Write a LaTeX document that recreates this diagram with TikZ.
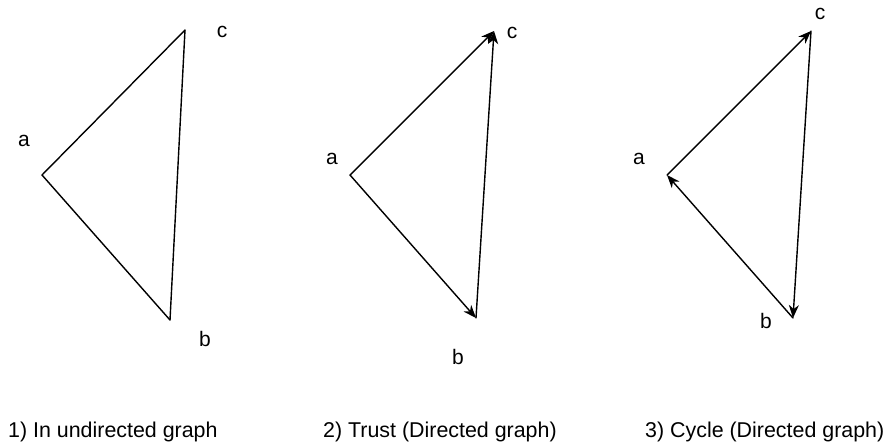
\documentclass[tikz,border=0pt]{standalone}
\usepackage{fontspec}
\setmainfont{Liberation Sans}
\usetikzlibrary{arrows.meta,positioning}

\begin{document}
\begin{tikzpicture}[x=1pt, y=-1pt,
  lbl/.style={font=\fontsize{21}{24}\selectfont, inner sep=0pt},
  caption/.style={font=\fontsize{21.4}{24}\selectfont, inner sep=0pt, anchor=base west},
  edge/.style={line width=1.4pt, line cap=round},
  arr/.style={edge, -{Stealth[length=13pt, width=10pt, inset=4pt]}},
]
\useasboundingbox (0,0) rectangle (891,445);
% 1) undirected graph
\coordinate (a1) at (42,175);
\coordinate (c1) at (185,30);
\coordinate (b1) at (170,320);
\node[lbl] (la1) at (24,141) {a};
\node[lbl] (lc1) at (222,32) {c};
\node[lbl] (lb1) at (205,339) {b};
\draw[edge] (a1)--(c1);
\draw[edge] (c1)--(b1);
\draw[edge] (b1)--(a1);
% 2) trust
\coordinate (a2) at (350,175);
\coordinate (c2) at (494,31);
\coordinate (b2) at (476,318);
\node[lbl] (la2) at (332,159) {a};
\node[lbl] (lc2) at (512,33) {c};
\node[lbl] (lb2) at (458,357) {b};
\draw[arr] (a2)--(c2);
\draw[arr] (a2)--(b2);
\draw[arr] (b2)--(c2);
% 3) cycle
\coordinate (a3) at (667,175);
\coordinate (c3) at (811,31);
\coordinate (b3) at (793,318);
\node[lbl] (la3) at (639,159) {a};
\node[lbl] (lc3) at (820,14) {c};
\node[lbl] (lb3) at (766,321) {b};
\draw[arr] (a3)--(c3);
\draw[arr] (c3)--(b3);
\draw[arr] (b3)--(a3);
% captions
\node[caption] (cap1) at (8,437) {1) In undirected graph};
\node[caption] (cap2) at (323,437) {2) Trust (Directed graph)};
\node[caption] (cap3) at (645,437) {3) Cycle (Directed graph)};
\end{tikzpicture}
\end{document}
